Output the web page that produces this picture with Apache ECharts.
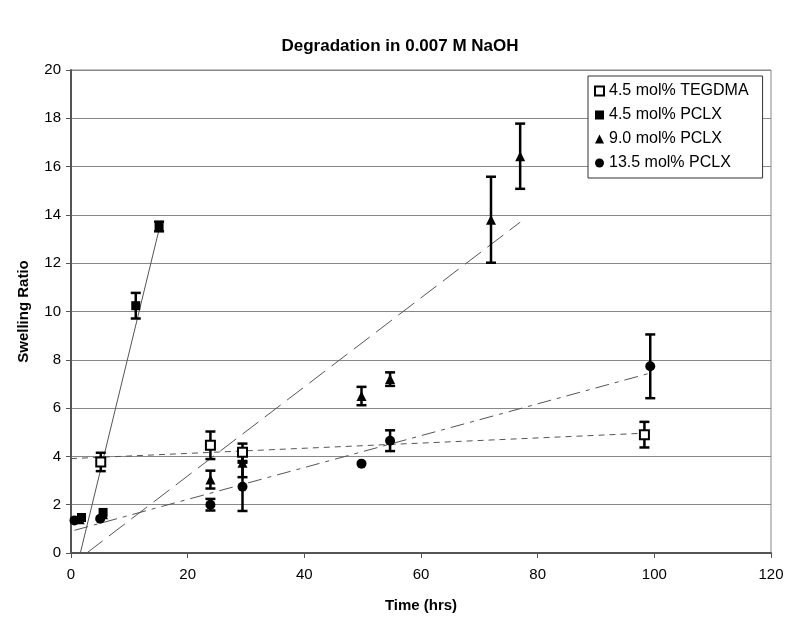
<!DOCTYPE html>
<html><head><meta charset="utf-8">
<script src="https://cdn.jsdelivr.net/npm/echarts@6/dist/echarts.min.js"></script>
<style>html,body{margin:0;padding:0;background:#fff}#c{width:800px;height:630px}</style>
</head><body><div id="c"></div>
<script>
// ---- data ----
const seriesNames = ['4.5 mol% TEGDMA', '4.5 mol% PCLX', '9.0 mol% PCLX', '13.5 mol% PCLX'];
const hoursTEG = [5.1, 23.9, 29.4, 98.3];
const ratioTEG = [3.77, 4.46, 4.17, 4.9];
const errTEG   = [0.38, 0.57, 0.36, 0.53];
const hoursP45 = [1.8, 5.5, 11.1, 15.1];
const ratioP45 = [1.47, 1.68, 10.24, 13.52];
const errP45   = [0, 0, 0.53, 0.2];
const hoursP90 = [1.5, 5.5, 23.9, 29.4, 49.8, 54.7, 72.0, 77.0];
const ratioP90 = [1.4, 1.6, 3.04, 3.74, 6.5, 7.2, 13.8, 16.43];
const errP90   = [0, 0, 0.37, 0.6, 0.38, 0.28, 1.78, 1.35];
const hoursP135 = [0.6, 5.0, 23.9, 29.4, 49.8, 54.7, 99.3];
const ratioP135 = [1.35, 1.42, 2.0, 2.74, 3.7, 4.65, 7.73];
const errP135   = [0, 0, 0.24, 1.0, 0, 0.43, 1.32];
// linear trend line end points (x, y)
const trendTEG  = [[0, 3.91], [98.3, 4.96]];
const trendP45  = [[1.6, 0], [15.1, 13.4]];
const trendP90  = [[2.7, 0], [77, 13.7]];
const trendP135 = [[0.6, 0.94], [99.3, 7.45]];
const xTicks = [0, 20, 40, 60, 80, 100, 120];
const yTicks = [0, 2, 4, 6, 8, 10, 12, 14, 16, 18, 20];

// ---- build ----
const FONT = 'Liberation Sans, Arial, sans-serif';
function pts(xs, ys) { return xs.map((x, i) => [x, ys[i]]); }
function errData(xs, ys, es) { return xs.map((x, i) => [x, ys[i] - es[i], ys[i] + es[i]]).filter((d, i) => es[i] > 0); }
function errSeries(data) {
  return {
    type: 'custom', silent: true, z: 3,
    data: data,
    renderItem: function (params, api) {
      const x = api.value(0);
      const lo = api.coord([x, api.value(1)]);
      const hi = api.coord([x, api.value(2)]);
      const w = 5;
      const st = { stroke: '#000', lineWidth: 2.5 };
      return { type: 'group', children: [
        { type: 'line', shape: { x1: lo[0], y1: lo[1], x2: hi[0], y2: hi[1] }, style: st },
        { type: 'line', shape: { x1: lo[0] - w, y1: lo[1], x2: lo[0] + w, y2: lo[1] }, style: st },
        { type: 'line', shape: { x1: hi[0] - w, y1: hi[1], x2: hi[0] + w, y2: hi[1] }, style: st }
      ]};
    }
  };
}
function trend(data, dash) {
  return { type: 'line', data: data, symbol: 'none', silent: true, z: 2,
    lineStyle: { color: '#555', width: 1, type: dash }, animation: false };
}
const chart = echarts.init(document.getElementById('c'));
chart.setOption({
  animation: false,
  backgroundColor: '#fff',
  title: { text: 'Degradation in 0.007 M NaOH', left: 'center', top: 33,
    textStyle: { fontFamily: FONT, fontSize: 17, fontWeight: 'bold', color: '#000' } },
  grid: { left: 71, right: 29, top: 70, bottom: 77, show: true, borderColor: '#888', borderWidth: 1 },
  legend: {
    orient: 'vertical', left: 588, top: 76, width: 174,
    data: seriesNames, itemWidth: 9, itemHeight: 9, itemGap: 8,
    backgroundColor: '#fff', borderColor: '#333', borderWidth: 1,
    padding: [7, 14, 7, 6],
    textStyle: { fontFamily: FONT, fontSize: 16, color: '#000', padding: [0, 0, 0, 0] }
  },
  xAxis: {
    type: 'value', min: 0, max: 120, interval: 20,
    name: 'Time (hrs)', nameLocation: 'middle', nameGap: 45,
    nameTextStyle: { fontFamily: FONT, fontSize: 15, fontWeight: 'bold', color: '#000' },
    axisLine: { lineStyle: { color: '#555', width: 2 } },
    axisTick: { show: true, length: 5, lineStyle: { color: '#555' } },
    axisLabel: { fontFamily: FONT, fontSize: 15, color: '#000', margin: 14,
      formatter: v => xTicks.includes(v) ? String(v) : '' },
    splitLine: { show: false }
  },
  yAxis: {
    type: 'value', min: 0, max: 20, interval: 2,
    name: 'Swelling Ratio', nameLocation: 'middle', nameGap: 40,
    nameTextStyle: { fontFamily: FONT, fontSize: 15, fontWeight: 'bold', color: '#000' },
    axisLine: { show: true, lineStyle: { color: '#555', width: 2 } },
    axisTick: { show: true, length: 5, lineStyle: { color: '#555' } },
    axisLabel: { fontFamily: FONT, fontSize: 15, color: '#000', margin: 10,
      formatter: v => yTicks.includes(v) ? String(v) : '' },
    splitLine: { show: true, lineStyle: { color: '#888', width: 1 } }
  },
  series: [
    { name: seriesNames[0], type: 'scatter', z: 5, data: pts(hoursTEG, ratioTEG), symbol: 'rect', symbolSize: 9,
      itemStyle: { color: '#fff', borderColor: '#000', borderWidth: 2, opacity: 1 } },
    { name: seriesNames[1], type: 'scatter', z: 5, data: pts(hoursP45, ratioP45), symbol: 'rect', symbolSize: 9,
      itemStyle: { color: '#000', opacity: 1 } },
    { name: seriesNames[2], type: 'scatter', z: 5, data: pts(hoursP90, ratioP90), symbol: 'triangle', symbolSize: 10,
      itemStyle: { color: '#000', opacity: 1 } },
    { name: seriesNames[3], type: 'scatter', z: 5, data: pts(hoursP135, ratioP135), symbol: 'circle', symbolSize: 10,
      itemStyle: { color: '#000', opacity: 1 } },
    errSeries(errData(hoursTEG, ratioTEG, errTEG)),
    errSeries(errData(hoursP45, ratioP45, errP45)),
    errSeries(errData(hoursP90, ratioP90, errP90)),
    errSeries(errData(hoursP135, ratioP135, errP135)),
    trend(trendTEG, [6, 5]),
    trend(trendP45, 'solid'),
    trend(trendP90, [20, 8]),
    trend(trendP135, [14, 6, 4, 6])
  ]
});
</script></body></html>
